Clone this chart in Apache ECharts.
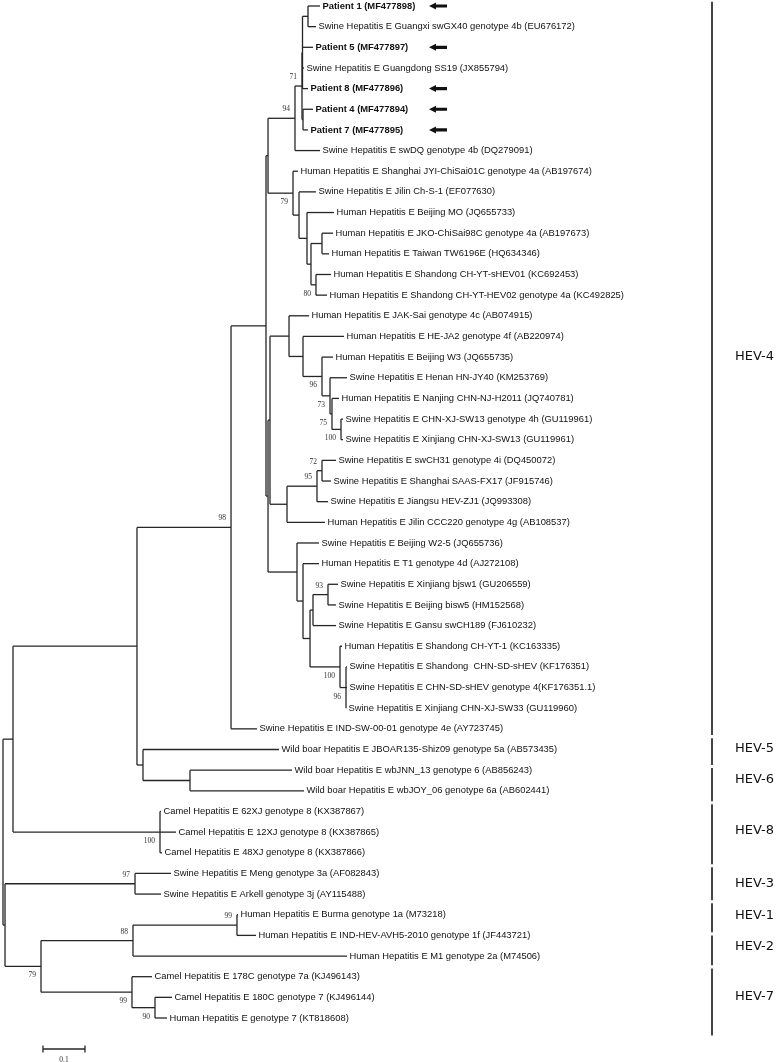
<!DOCTYPE html>
<html><head><meta charset="utf-8">
<script src="https://cdn.jsdelivr.net/npm/echarts@6/dist/echarts.min.js"></script>
<style>html,body{margin:0;padding:0;background:#fff}#c{width:776px;height:1062px}</style>
</head><body><div id="c"></div>
<script>
// ---- data ----
const leafNames = [
 'Patient 1 (MF477898)',
 'Swine Hepatitis E Guangxi swGX40 genotype 4b (EU676172)',
 'Patient 5 (MF477897)',
 'Swine Hepatitis E Guangdong SS19 (JX855794)',
 'Patient 8 (MF477896)',
 'Patient 4 (MF477894)',
 'Patient 7 (MF477895)',
 'Swine Hepatitis E swDQ genotype 4b (DQ279091)',
 'Human Hepatitis E Shanghai JYI-ChiSai01C genotype 4a (AB197674)',
 'Swine Hepatitis E Jilin Ch-S-1 (EF077630)',
 'Human Hepatitis E Beijing MO (JQ655733)',
 'Human Hepatitis E JKO-ChiSai98C genotype 4a (AB197673)',
 'Human Hepatitis E Taiwan TW6196E (HQ634346)',
 'Human Hepatitis E Shandong CH-YT-sHEV01 (KC692453)',
 'Human Hepatitis E Shandong CH-YT-HEV02 genotype 4a (KC492825)',
 'Human Hepatitis E JAK-Sai genotype 4c (AB074915)',
 'Human Hepatitis E HE-JA2 genotype 4f (AB220974)',
 'Human Hepatitis E Beijing W3 (JQ655735)',
 'Swine Hepatitis E Henan HN-JY40 (KM253769)',
 'Human Hepatitis E Nanjing CHN-NJ-H2011 (JQ740781)',
 'Swine Hepatitis E CHN-XJ-SW13 genotype 4h (GU119961)',
 'Swine Hepatitis E Xinjiang CHN-XJ-SW13 (GU119961)',
 'Swine Hepatitis E swCH31 genotype 4i (DQ450072)',
 'Swine Hepatitis E Shanghai SAAS-FX17 (JF915746)',
 'Swine Hepatitis E Jiangsu HEV-ZJ1 (JQ993308)',
 'Human Hepatitis E Jilin CCC220 genotype 4g (AB108537)',
 'Swine Hepatitis E Beijing W2-5 (JQ655736)',
 'Human Hepatitis E T1 genotype 4d (AJ272108)',
 'Swine Hepatitis E Xinjiang bjsw1 (GU206559)',
 'Swine Hepatitis E Beijing bisw5 (HM152568)',
 'Swine Hepatitis E Gansu swCH189 (FJ610232)',
 'Human Hepatitis E Shandong CH-YT-1 (KC163335)',
 'Swine Hepatitis E Shandong  CHN-SD-sHEV (KF176351)',
 'Swine Hepatitis E CHN-SD-sHEV genotype 4(KF176351.1)',
 'Swine Hepatitis E Xinjiang CHN-XJ-SW33 (GU119960)',
 'Swine Hepatitis E IND-SW-00-01 genotype 4e (AY723745)',
 'Wild boar Hepatitis E JBOAR135-Shiz09 genotype 5a (AB573435)',
 'Wild boar Hepatitis E wbJNN_13 genotype 6 (AB856243)',
 'Wild boar Hepatitis E wbJOY_06 genotype 6a (AB602441)',
 'Camel Hepatitis E 62XJ genotype 8 (KX387867)',
 'Camel Hepatitis E 12XJ genotype 8 (KX387865)',
 'Camel Hepatitis E 48XJ genotype 8 (KX387866)',
 'Swine Hepatitis E Meng genotype 3a (AF082843)',
 'Swine Hepatitis E Arkell genotype 3j (AY115488)',
 'Human Hepatitis E Burma genotype 1a (M73218)',
 'Human Hepatitis E IND-HEV-AVH5-2010 genotype 1f (JF443721)',
 'Human Hepatitis E M1 genotype 2a (M74506)',
 'Camel Hepatitis E 178C genotype 7a (KJ496143)',
 'Camel Hepatitis E 180C genotype 7 (KJ496144)',
 'Human Hepatitis E genotype 7 (KT818608)'
];
// distance from root (substitutions/site) of each tip
const leafDepth = [
 0.7548, 0.7452, 0.7381, 0.7167, 0.7262, 0.7381, 0.7262, 0.7548,
 0.7024, 0.7452, 0.7881, 0.7857, 0.7762, 0.7810, 0.7714,
 0.7286, 0.8119, 0.7857, 0.8190, 0.8000, 0.8095, 0.8095,
 0.7929, 0.7810, 0.7738, 0.7667,
 0.7524, 0.7524, 0.7976, 0.7929, 0.7929, 0.8071, 0.8190, 0.8190, 0.8167,
 0.6048, 0.6571, 0.6881, 0.7167,
 0.3762, 0.4119, 0.3786, 0.4000, 0.3762,
 0.5595, 0.6024, 0.8190, 0.3548, 0.4024, 0.3905
];
// internal nodes: id, distance from root, children (leaf index or node id), bootstrap
const nodeIds = ['root','BB','AA','A','B','B1','C','P71','Pe','P1','Pc','N79','N2','N3','N4','N5','N6',
 'Q','Q1','R','S','T','U','V','W','X3','X2','X1','Z7','Z6','Z5','Z2','Z1','Z3','Z4',
 'H56','H6','H8','CC','H3','DD','EE','GG','FF','HH'];
const nodeDepth = [0, 0.0238, 0.3190, 0.5429, 0.6262, 0.6310, 0.6952, 0.7119, 0.7131, 0.7262, 0.7143,
 0.6905, 0.7048, 0.7238, 0.7333, 0.7595, 0.7452,
 0.6310, 0.6357, 0.6810, 0.7143, 0.7595, 0.7786, 0.7833, 0.8048,
 0.6762, 0.7476, 0.7595, 0.7000, 0.7143, 0.7310, 0.7381, 0.7738, 0.8024, 0.8167,
 0.3333, 0.4452, 0.3738, 0.0048, 0.3143, 0.0905, 0.3095, 0.5571, 0.3071, 0.3619];
const nodeChildren = [
 ['BB','CC'], ['AA','H8'], ['A','H56'], ['B',35], ['B1','Q'], ['C','N79'], ['P71',7], ['Pe','Pc'],
 ['P1',2,3,4], [0,1], [5,6],
 [8,'N2'], [9,'N3'], [10,'N4'], ['N5','N6'], [11,12], [13,14],
 ['Q1','Z7'], ['R','X3'], [15,'S'], [16,'T'], [17,'U'], [18,'V'], [19,'W'], [20,21],
 ['X2',25], ['X1',24], [22,23], [26,'Z6'], [27,'Z5'], ['Z2','Z3'], ['Z1',30], [28,29], [31,'Z4'], [32,33,34],
 [36,'H6'], [37,38], [39,40,41], ['H3','DD'], [42,43], ['EE','FF'], ['GG',46], [44,45], [47,'HH'], [48,49]
];
const nodeSupport = [null, null, null, 98, null, null, 94, 71, null, null, null,
 79, null, null, null, null, 80,
 null, null, null, null, 96, 73, 75, 100,
 null, 95, 72, null, null, null, null, 93, 100, 96,
 null, null, 100, null, 97, 79, 88, 99, 99, 90];
// genotype brackets: name, covered rows (in leaf-row units) and row of the label
const cladeNames = ['HEV-4','HEV-5','HEV-6','HEV-8','HEV-3','HEV-1','HEV-2','HEV-7'];
const cladeRowStart = [-0.2, 35.45, 36.9, 38.65, 41.7, 43.45, 45.0, 46.6];
const cladeRowEnd   = [35.3, 36.75, 38.5, 41.55, 43.3, 44.85, 46.45, 49.85];
const cladeLabelRow = [17.0, 35.95, 37.45, 39.95, 42.5, 44.05, 45.55, 47.95];
const scaleBarLength = 0.1;
const scaleBarLabel = '0.1';

// ---- tree geometry (from data) ----
const nodeIndex = {}; nodeIds.forEach((id,k)=>nodeIndex[id]=k);
const nodeY = new Array(nodeIds.length);
function yOfChild(c){ return typeof c === 'number' ? c : compY(nodeIndex[c]); }
function xOfChild(c){ return typeof c === 'number' ? leafDepth[c] : nodeDepth[nodeIndex[c]]; }
function compY(k){
  if (nodeY[k] !== undefined) return nodeY[k];
  const ys = nodeChildren[k].map(yOfChild);
  nodeY[k] = (ys[0] + ys[ys.length-1]) / 2;
  return nodeY[k];
}
nodeIds.forEach((_,k)=>compY(k));
const parentOf = {};
nodeChildren.forEach((ch,k)=>ch.forEach((c,j)=>{ if(typeof c==='string') parentOf[c]={k, first:j===0}; }));

const segs = [];
nodeIds.forEach((id,k)=>{
  const ch = nodeChildren[k], x = nodeDepth[k];
  const ys = ch.map(yOfChild);
  segs.push([x, ys[0], x, ys[ys.length-1]]);
  ch.forEach((c,j)=>segs.push([x, ys[j], xOfChild(c), ys[j]]));
});
const supportData = [];
nodeIds.forEach((id,k)=>{
  if (nodeSupport[k] != null) supportData.push([nodeDepth[k], nodeY[k], String(nodeSupport[k]), parentOf[id] && parentOf[id].first ? 1 : 0]);
});
const leafData = leafNames.map((n,i)=>[leafDepth[i], i, n]);
const nLeaf = leafNames.length;

// ---- chart ----
const chart = echarts.init(document.getElementById('c'));
const PX_PER_UNIT = 420, LEAF_STEP = 20.653, TOP = 6;
const lineColor = '#262626';
chart.setOption({
  animation: false,
  grid: {left: 3, right: 0, top: 0, bottom: 0},
  xAxis: {type: 'value', min: 0, max: 773 / PX_PER_UNIT, show: false},
  yAxis: {type: 'value', inverse: true, min: -TOP / LEAF_STEP, max: (1062 - TOP) / LEAF_STEP, show: false},
  series: [
    { type: 'custom', silent: true, data: segs, clip: false,
      renderItem: (p, api) => {
        const a = api.coord([api.value(0), api.value(1)]), b = api.coord([api.value(2), api.value(3)]);
        return {type: 'line', shape: {x1: a[0], y1: a[1], x2: b[0], y2: b[1]}, style: {stroke: lineColor, lineWidth: 1.3}};
      }},
    { type: 'custom', silent: true, data: leafData, clip: false,
      renderItem: (p, api) => {
        const c = api.coord([api.value(0), api.value(1)]);
        const name = leafNames[p.dataIndex];
        const bold = name.indexOf('Patient') === 0;
        const els = [{type: 'text', x: c[0] + 2.5, y: c[1], style: {text: name, fill: '#111',
          font: (bold ? 'bold ' : '') + '9.4px "Liberation Sans", Arial, sans-serif', verticalAlign: 'middle', align: 'left'}}];
        if (bold) {
          const ax = api.coord([1.0143, 0])[0], y = c[1];
          els.push({type: 'polygon', shape: {points: [[ax, y], [ax + 7, y - 3.5], [ax + 7, y - 1.6], [ax + 18, y - 1.6], [ax + 18, y + 1.6], [ax + 7, y + 1.6], [ax + 7, y + 3.5]]}, style: {fill: '#111'}});
        }
        return {type: 'group', children: els};
      }},
    { type: 'custom', silent: true, data: supportData, clip: false,
      renderItem: (p, api) => {
        const c = api.coord([api.value(0), api.value(1)]);
        const above = supportData[p.dataIndex][3] === 1;
        return {type: 'text', x: c[0] - 5, y: c[1] + (above ? -9 : 9), style: {text: supportData[p.dataIndex][2], fill: '#333',
          font: '7.5px "Liberation Serif", "Times New Roman", serif', verticalAlign: 'middle', align: 'right'}};
      }},
    { type: 'custom', silent: true, data: cladeNames.map((n,i)=>[cladeRowStart[i], cladeRowEnd[i], cladeLabelRow[i]]), clip: false,
      renderItem: (p, api) => {
        const bx = api.getWidth() - 64;
        const y1 = api.coord([0, api.value(0)])[1], y2 = api.coord([0, api.value(1)])[1];
        const ym = api.coord([0, api.value(2)])[1];
        return {type: 'group', children: [
          {type: 'line', shape: {x1: bx, y1: y1, x2: bx, y2: y2}, style: {stroke: '#444', lineWidth: 2}},
          {type: 'text', x: bx + 23, y: ym, style: {text: cladeNames[p.dataIndex], fill: '#111',
            font: '13px "DejaVu Sans", sans-serif', verticalAlign: 'middle', align: 'left'}}
        ]};
      }},
    { type: 'custom', silent: true, data: [[0.0952, nLeaf + 0.5, scaleBarLength]], clip: false,
      renderItem: (p, api) => {
        const a = api.coord([api.value(0), api.value(1)]), b = api.coord([api.value(0) + api.value(2), api.value(1)]);
        return {type: 'group', children: [
          {type: 'line', shape: {x1: a[0], y1: a[1], x2: b[0], y2: b[1]}, style: {stroke: lineColor, lineWidth: 1.3}},
          {type: 'line', shape: {x1: a[0], y1: a[1] - 3.5, x2: a[0], y2: a[1] + 3.5}, style: {stroke: lineColor, lineWidth: 1.3}},
          {type: 'line', shape: {x1: b[0], y1: b[1] - 3.5, x2: b[0], y2: b[1] + 3.5}, style: {stroke: lineColor, lineWidth: 1.3}},
          {type: 'text', x: (a[0] + b[0]) / 2, y: a[1] + 11, style: {text: scaleBarLabel, fill: '#333',
            font: '7.5px "Liberation Serif", serif', verticalAlign: 'middle', align: 'center'}}
        ]};
      }}
  ]
});
</script>
</body></html>
